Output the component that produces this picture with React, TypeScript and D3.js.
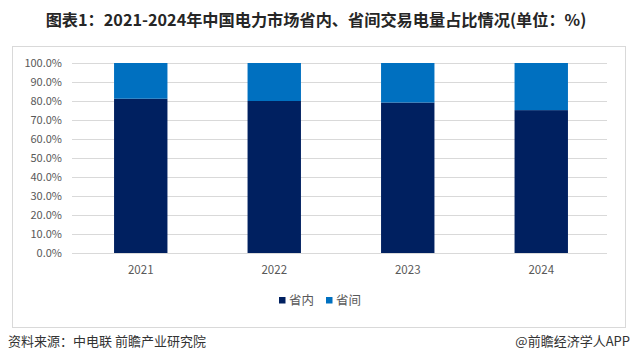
import React from "react";
import * as d3 from "d3";

const years = ["2021", "2022", "2023", "2024"];
const intra = [81.2, 80.0, 79.2, 75.2];
const inter = [18.8, 20.0, 20.8, 24.8];
const yTicks = [0, 10, 20, 30, 40, 50, 60, 70, 80, 90, 100];
const seriesNames = ["省内", "省间"];
const colors = ["#002060", "#0070C0"];

export default function App() {
  const W = 632, H = 357;
  const x = d3.scaleBand<string>().domain(years).range([74, 608]).paddingInner(0.6).paddingOuter(0.3);
  const y = d3.scaleLinear().domain([0, 100]).range([253, 63]);
  const font = "'Microsoft YaHei', 'Noto Sans CJK SC', sans-serif";
  const stacks = years.map((yr, i) => [
    { y0: 0, y1: intra[i] },
    { y0: intra[i], y1: intra[i] + inter[i] },
  ]);
  return (
    <svg width={W} height={H} style={{ position: "absolute", left: 0, top: 0, background: "#fff" }} fontFamily={font}>
      <text x={316} y={26} textAnchor="middle" fontSize={16.2} fontWeight="bold" fill="#262626">
        图表1：2021-2024年中国电力市场省内、省间交易电量占比情况(单位：%)
      </text>
      <rect x={12.5} y={46.5} width={613} height={281} fill="none" stroke="#d9d9d9" />
      {yTicks.map((t) => (
        <g key={t}>
          <line x1={72} x2={607} y1={Math.round(y(t)) + 0.5} y2={Math.round(y(t)) + 0.5} stroke="#d9d9d9" />
          <text x={62} y={y(t) + 4} textAnchor="end" fontSize={11} fill="#595959">
            {t.toFixed(1)}%
          </text>
        </g>
      ))}
      {years.map((yr, i) =>
        stacks[i].map((s, j) => (
          <rect key={yr + j} x={x(yr)} width={x.bandwidth()} y={y(s.y1)} height={y(s.y0) - y(s.y1)} fill={colors[j]} />
        ))
      )}
      {years.map((yr) => (
        <text key={yr} x={(x(yr) as number) + x.bandwidth() / 2} y={274} textAnchor="middle" fontSize={11.5} fill="#595959">
          {yr}
        </text>
      ))}
      <g>
        <rect x={279} y={297} width={6.5} height={6.5} fill={colors[0]} />
        <text x={289} y={305} fontSize={12.5} fill="#595959">{seriesNames[0]}</text>
        <rect x={326} y={297} width={6.5} height={6.5} fill={colors[1]} />
        <text x={336} y={305} fontSize={12.5} fill="#595959">{seriesNames[1]}</text>
      </g>
      <text x={8} y={346} fontSize={13} fill="#333">资料来源：中电联 前瞻产业研究院</text>
      <text x={630} y={346} textAnchor="end" fontSize={13} fill="#333">@前瞻经济学人APP</text>
    </svg>
  );
}
